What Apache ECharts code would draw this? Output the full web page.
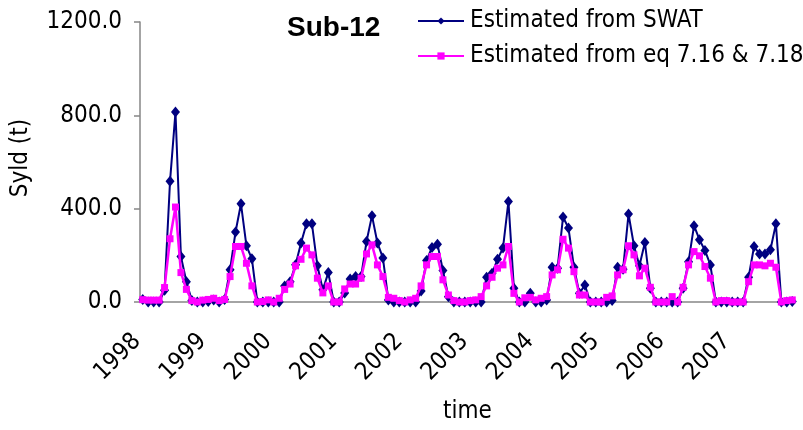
<!DOCTYPE html>
<html>
<head>
<meta charset="utf-8">
<script src="https://cdn.jsdelivr.net/npm/echarts@6/dist/echarts.min.js"></script>
<style>
  html, body { margin: 0; padding: 0; background: #ffffff; }
  #chart { width: 803px; height: 430px; }
</style>
</head>
<body>
<div id="chart"></div>
<script>
// Monthly sediment yield at Sub-12, 1998–2007 (t)
const years = [1998, 1999, 2000, 2001, 2002, 2003, 2004, 2005, 2006, 2007];

const swat = [
  11, 0, 0, 0, 50, 517, 814, 195, 87, 6, 0, 0,          // 1998
  2, 9, 0, 11, 138, 300, 421, 241, 185, 0, 0, 0,        // 1999
  0, 0, 69, 87, 160, 253, 335, 335, 155, 52, 126, 0,    // 2000
  0, 39, 99, 109, 109, 259, 370, 253, 189, 9, 0, 0,     // 2001
  0, 0, 0, 47, 178, 234, 248, 135, 23, 0, 0, 0,         // 2002
  0, 0, 0, 106, 123, 183, 231, 431, 59, 0, 0, 37,       // 2003
  0, 0, 9, 149, 145, 364, 317, 149, 37, 73, 0, 0,       // 2004
  0, 0, 6, 149, 140, 377, 241, 155, 255, 59, 0, 0,      // 2005
  0, 0, 0, 59, 173, 327, 267, 221, 159, 0, 0, 0,        // 2006
  0, 0, 0, 106, 238, 206, 206, 224, 335, 0, 0, 2        // 2007
];

const eqEstimate = [
  10, 8, 8, 8, 62, 271, 407, 126, 54, 6, 0, 8,          // 1998
  11, 16, 6, 11, 109, 238, 238, 166, 69, 0, 2, 9,       // 1999
  0, 16, 54, 77, 155, 183, 231, 202, 102, 39, 69, 0,    // 2000
  0, 56, 77, 77, 102, 206, 245, 159, 109, 20, 16, 6,    // 2001
  0, 9, 16, 69, 159, 195, 195, 95, 30, 6, 0, 0,         // 2002
  6, 9, 23, 69, 106, 145, 159, 238, 37, 0, 18, 20,      // 2003
  9, 16, 23, 116, 138, 269, 231, 130, 30, 30, 0, 0,     // 2004
  0, 20, 26, 116, 138, 241, 202, 112, 145, 63, 0, 0,    // 2005
  0, 23, 0, 63, 159, 216, 198, 152, 102, 0, 6, 6,       // 2006
  0, 0, 0, 87, 159, 159, 155, 166, 149, 0, 6, 9         // 2007
];

const yTicks = { min: 0, max: 1200, step: 400 };

// One category per month; only January carries the year label
const months = [];
years.forEach(y => {
  for (let m = 1; m <= 12; m++) months.push(y + '-' + String(m).padStart(2, '0'));
});

const FONT = '"DejaVu Sans Condensed", "DejaVu Sans", sans-serif';
const AXIS_GREY = '#868686';
const NAVY = '#000080';
const MAGENTA = '#FF00FF';

const chart = echarts.init(document.getElementById('chart'), null, { renderer: 'canvas' });

chart.setOption({
  animation: false,
  backgroundColor: '#ffffff',
  title: {
    text: 'Sub-12',
    left: 287,
    top: 14,
    padding: 0,
    textStyle: { fontFamily: '"Liberation Sans", Arial, sans-serif', fontWeight: 'bold', fontSize: 28, color: '#000' }
  },
  legend: {
    orient: 'vertical',
    left: 417,
    top: 9,
    padding: 0,
    itemWidth: 46,
    itemHeight: 9,
    itemGap: 11,
    textStyle: { fontFamily: FONT, fontSize: 24, lineHeight: 24, color: '#000', padding: [0, 0, 0, 1] },
    data: ['Estimated from SWAT', 'Estimated from eq 7.16 & 7.18']
  },
  grid: { left: 140, right: 8, top: 22, bottom: 128, containLabel: false },
  xAxis: {
    type: 'category',
    data: months,
    boundaryGap: true,
    name: 'time',
    nameLocation: 'middle',
    nameGap: 98,
    nameTextStyle: { fontFamily: FONT, fontSize: 24, color: '#000' },
    axisLine: { lineStyle: { color: AXIS_GREY, width: 1.5 } },
    axisTick: { show: false },
    axisLabel: {
      interval: (idx) => idx % 12 === 0,
      rotate: 45,
      margin: 30,
      padding: [0, 8, 0, 0],
      fontFamily: FONT,
      fontSize: 24,
      color: '#000',
      formatter: (v) => v.slice(0, 4)
    },
    splitLine: { show: false }
  },
  yAxis: {
    type: 'value',
    min: yTicks.min,
    max: yTicks.max,
    interval: yTicks.step,
    name: 'Syld (t)',
    nameLocation: 'middle',
    nameGap: 107,
    nameTextStyle: { fontFamily: FONT, fontSize: 24, color: '#000', padding: [0, 0, 0, 8] },
    axisLine: { show: true, lineStyle: { color: AXIS_GREY, width: 1.5 } },
    axisTick: { show: true, length: 6, lineStyle: { color: AXIS_GREY, width: 1.5 } },
    axisLabel: {
      margin: 18,
      fontFamily: FONT,
      fontSize: 24,
      color: '#000',
      formatter: (v) => v.toFixed(1)
    },
    splitLine: { show: false }
  },
  series: [
    {
      name: 'Estimated from SWAT',
      type: 'line',
      data: swat,
      symbol: 'diamond',
      symbolSize: [9, 11],
      showSymbol: true,
      showAllSymbol: true,
      lineStyle: { color: NAVY, width: 2 },
      itemStyle: { color: NAVY },
      z: 2
    },
    {
      name: 'Estimated from eq 7.16 & 7.18',
      type: 'line',
      data: eqEstimate,
      symbol: 'rect',
      symbolSize: 7,
      showSymbol: true,
      showAllSymbol: true,
      lineStyle: { color: MAGENTA, width: 2.5 },
      itemStyle: { color: MAGENTA },
      z: 3
    }
  ]
});
</script>
</body>
</html>
